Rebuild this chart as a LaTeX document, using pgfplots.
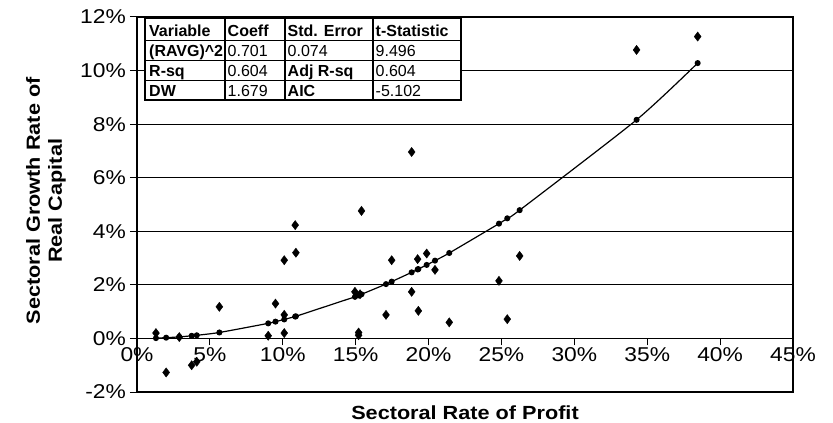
\documentclass[border=0pt]{standalone}
\usepackage{fontspec}
\setmainfont{Liberation Sans}
\newfontfamily\lblfont[FakeStretch=1.14]{Liberation Sans}
\newcommand\tickfont{\lblfont\fontsize{20bp}{24bp}\selectfont}
\usepackage{pgfplots}
\pgfplotsset{compat=1.18}

\pgfplotstableread{
x y
1.3 0.2
2.0 -1.27
2.9 0.05
3.75 -1.0
4.1 -0.87
5.65 1.18
9.0 0.1
9.5 1.3
10.1 2.92
10.1 0.88
10.1 0.2
10.85 4.23
10.9 3.2
14.95 1.74
15.3 1.65
15.2 0.22
15.2 0.12
15.4 4.76
17.08 0.88
17.47 2.92
18.84 6.96
18.84 1.74
19.25 2.96
19.3 1.03
19.87 3.17
20.44 2.56
21.42 0.6
24.83 2.15
25.4 0.72
26.25 3.08
34.27 10.77
38.46 11.27
}\actual

\pgfplotstableread{
x y
1.3 0.012
2.0 0.028
2.9 0.058
3.75 0.098
4.1 0.117
5.65 0.222
9.0 0.563
9.5 0.627
10.1 0.709
10.85 0.818
10.9 0.826
14.95 1.553
15.2 1.606
15.3 1.627
15.4 1.648
17.08 2.028
17.47 2.121
18.84 2.467
19.25 2.575
19.3 2.589
19.87 2.744
20.44 2.904
21.42 3.189
24.83 4.285
25.4 4.484
26.25 4.789
34.27 8.162
38.46 10.280
}\fitted

\begin{document}
\begin{tikzpicture}[x=1bp,y=1bp]
\useasboundingbox (-137,-30) rectangle (696,392);
\begin{axis}[
  at={(0,0)}, anchor=south west,
  scale only axis, width=656bp, height=375bp,
  xmin=0, xmax=45, ymin=-2, ymax=12,
  axis x line=middle, axis y line=left,
  axis line style={-, line width=1.3bp},
  tick align=outside, major tick length=7bp,
  tick style={black, line width=1bp},
  hide obscured x ticks=false,
  xtick={0,5,...,45}, ytick={-2,0,...,12},
  xticklabel={\pgfmathprintnumber{\tick}\%},
  yticklabel={\pgfmathprintnumber{\tick}\%},
  /pgf/number format/assume math mode=true,
  tick label style={font=\tickfont},
  xticklabel style={inner sep=2bp},
  yticklabel style={inner sep=4bp},
  ymajorgrids, grid style={black, line width=1.2bp},
  xlabel={Sectoral Rate of Profit},
  ylabel={Sectoral Growth Rate of\\Real Capital},
  xlabel style={at={(axis description cs:0.5,-0.0733)}, anchor=base, inner sep=0pt,
    font=\lblfont\bfseries\fontsize{19bp}{22bp}\selectfont},
  ylabel style={at={(axis description cs:-0.1082,0.51)}, anchor=south, inner sep=0pt, align=center,
    font=\lblfont\bfseries\fontsize{19bp}{22bp}\selectfont},
  clip=false,
]
\addplot[black, line width=1.2bp, smooth, tension=0.4, mark=*, mark size=2.4bp, mark options={solid}] table[x=x,y=y] {\fitted};
\addplot[only marks, mark=diamond*, mark size=4.6bp, black] table[x=x,y=y] {\actual};
\draw[line width=1.3bp] (rel axis cs:0,0) rectangle (rel axis cs:1,1);
\end{axis}
\begin{scope}[line width=1.3bp]
\fill[white] (8,292) rectangle (324,374);
\draw (8,292) rectangle (324,374);
\foreach \xx in {88,148,236} \draw (\xx,292) -- (\xx,374);
\foreach \yy in {351.3,331.2,311.2} \draw (8,\yy) -- (324,\yy);
\end{scope}
\begin{scope}[every node/.style={anchor=base west, inner sep=0pt, font=\fontsize{16bp}{18bp}\selectfont}]
\node at (12,355.5) {\bfseries Variable};
\node at (90.5,355.5) {\bfseries Coeff};
\node at (150.5,355.5) {\bfseries Std. Error};
\node at (238.5,355.5) {\bfseries t-Statistic};
\node at (12,336) {\bfseries (RAVG)\^{}2};
\node at (90.5,336) {0.701};
\node at (150.5,336) {0.074};
\node at (238.5,336) {9.496};
\node at (12,316) {\bfseries R-sq};
\node at (90.5,316) {0.604};
\node at (150.5,316) {\bfseries Adj R-sq};
\node at (238.5,316) {0.604};
\node at (12,295.5) {\bfseries DW};
\node at (90.5,295.5) {1.679};
\node at (150.5,295.5) {\bfseries AIC};
\node at (238.5,295.5) {-5.102};
\end{scope}
\end{tikzpicture}
\end{document}
